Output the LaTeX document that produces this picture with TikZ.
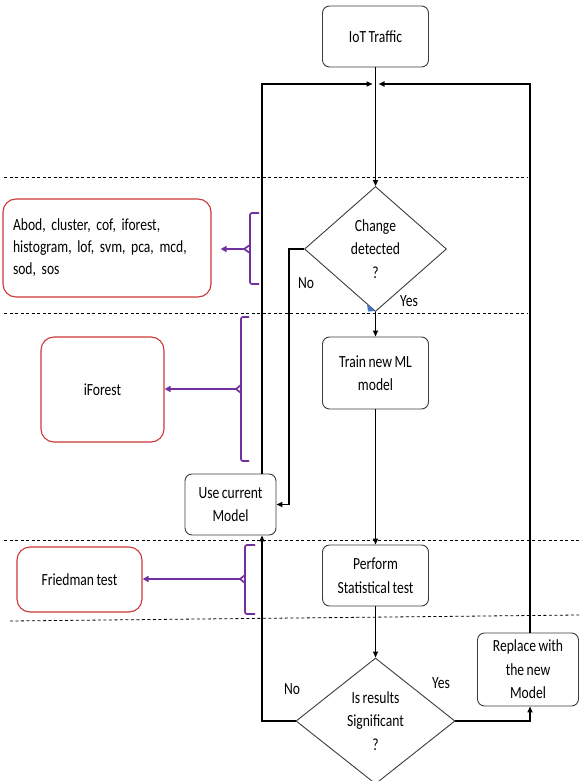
\documentclass[tikz,border=0pt]{standalone}
\usepackage{fontspec}
\setmainfont{Carlito}[FakeStretch=0.8, WordSpace=0.8]
\usetikzlibrary{shapes.geometric,arrows.meta}
\definecolor{redb}{RGB}{205,55,55}
\definecolor{purp}{RGB}{112,48,160}
\definecolor{boxg}{RGB}{60,60,60}
\definecolor{tipblue}{RGB}{68,114,196}
\begin{document}
\begin{tikzpicture}[x=1pt,y=-1pt, font=\fontsize{17}{23.5}\selectfont,
 flow/.style={draw=boxg, fill=white, line width=0.9pt, rounded corners=7pt, align=center, inner sep=2pt},
 side/.style={draw=redb, fill=white, line width=1.1pt, rounded corners=13pt, align=center},
 dec/.style={draw=boxg, fill=white, line width=0.9pt, diamond, aspect=1.15, inner sep=0pt, align=center},
 arr/.style={line width=1.6pt, -{Triangle[length=6pt,width=5pt]}},
 brace/.style={draw=purp, line width=1.7pt, rounded corners=2pt},
 parr/.style={draw=purp, line width=1.7pt, -{Triangle[length=6pt,width=6pt]}},
 sep/.style={dash pattern=on 3pt off 2.5pt, line width=0.8pt},
 lbl/.style={inner sep=0pt}]
\useasboundingbox (0,0) rectangle (579,781);

% separators
\draw[sep] (4,177) -- (527,177);
\draw[sep] (4,313) -- (527,313);
\draw[sep] (4,540.5) -- (579,540.5);
\draw[sep] (10,621) -- (579,615);

% flow nodes
\node[flow, minimum width=106, minimum height=61] (iot) at (375.5,36.5) {IoT Traffic};
\node[dec, minimum width=142, minimum height=125] (d1) at (375.5,249) {Change\\detected\\?};
\node[flow, minimum width=106, minimum height=72] (train) at (375.5,373) {Train new ML\\model};
\node[flow, minimum width=91, minimum height=61] (use) at (230.5,504.5) {Use current\\Model};
\node[flow, minimum width=106, minimum height=61] (perf) at (375.5,575.5) {Perform\\Statistical test};
\node[dec, minimum width=159, minimum height=126] (d2) at (375.5,721) {Is results\\Significant\\?};
\node[flow, minimum width=101, minimum height=73] (rep) at (528,669.5) {Replace with\\the new\\Model};

% side nodes
\node[side, minimum width=208, minimum height=98, text width=188, align=left,
      font=\fontsize{17}{22}\selectfont] (s1) at (107,248)
      {Abod, cluster, cof, iforest,\\histogram, lof, svm, pca, mcd,\\sod, sos};
\node[side, minimum width=123, minimum height=105] (s2) at (102.5,389.5) {iForest};
\node[side, minimum width=125, minimum height=65] (s3) at (79.5,579.5) {Friedman test};

% coordinates
\coordinate (lt) at (262,84);
\coordinate (rt) at (530,84);
\coordinate (lin) at (372.5,84);
\coordinate (rin) at (378.5,84);
\coordinate (nb) at (289,400);

% connectors
\draw[arr] (iot.south) -- (d1.north);
\draw[arr] (lt |- use.north) -- (lt) -- (lin);
\draw[arr] (rt |- rep.north) -- (rt) -- (rin);
\draw[arr] (d1.west) -- (d1.west -| nb) -- (nb |- use.east) -- (use.east);
\draw[arr] (d1.south) -- (train.north);
\draw[arr] (train.south) -- (perf.north);
\draw[arr] (perf.south) -- (d2.north);
\draw[arr] (d2.west) -- (d2.west -| lt) -- (lt |- use.south);
\draw[arr] (d2.east) -- (d2.east -| rt) -- (rt |- rep.south);
\fill[tipblue] (367,304) -- (375,311) -- (368,311.5) -- cycle;

% labels
\node[lbl] (no1) at (306,283) {No};
\node[lbl] (yes1) at (409,301) {Yes};
\node[lbl] (no2) at (292,689) {No};
\node[lbl] (yes2) at (441,683) {Yes};

% braces
\coordinate (b1) at (244,249);
\coordinate (b2) at (236,389);
\coordinate (b3) at (240,579);
\draw[brace] (259,213) -- (250,213) -- (250,284) -- (259,284);
\draw[purp, line width=1.7pt] (250,245) -- (b1) -- (250,253);
\draw[parr, shorten >=9pt] (b1) -- (s1.east |- b1);
\draw[brace] (249,317) -- (241,317) -- (241,461) -- (249,461);
\draw[purp, line width=1.7pt] (241,385) -- (b2) -- (241,393);
\draw[parr] (b2) -- (s2.east |- b2);
\draw[brace] (255,545) -- (245,545) -- (245,614) -- (255,614);
\draw[purp, line width=1.7pt] (245,575) -- (b3) -- (245,583);
\draw[parr] (b3) -- (s3.east |- b3);
\end{tikzpicture}
\end{document}
